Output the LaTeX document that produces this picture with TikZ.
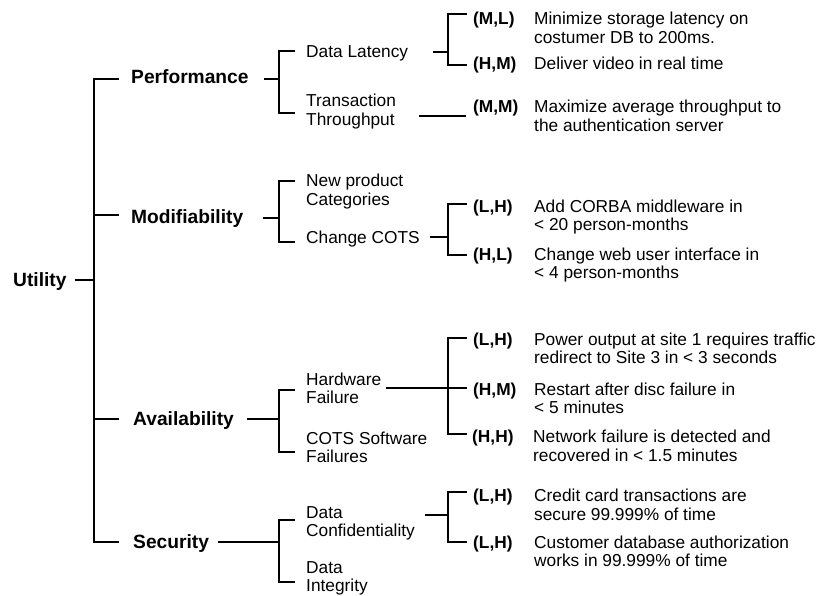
\documentclass[tikz,border=0pt]{standalone}
\usepackage{fontspec}
\setmainfont{Liberation Sans}
% two-line label whose baseline is that of its first line
\newcommand\stk[1]{\begin{tabular}[t]{@{}l@{}}#1\end{tabular}}
\begin{document}
\begin{tikzpicture}[x=1pt,y=-1pt,
  every node/.style={inner sep=0pt, anchor=base west},
  root/.style={font=\fontsize{19.2}{21}\selectfont\bfseries},
  cat/.style={font=\fontsize{19.2}{21}\selectfont\bfseries},
  sub/.style={font=\fontsize{17.3}{18.6}\selectfont},
  rate/.style={font=\fontsize{17.3}{18.6}\selectfont\bfseries},
  desc/.style={font=\fontsize{17.3}{18.6}\selectfont},
  link/.style={draw=black, line width=1.5pt}]
\useasboundingbox (0,0) rectangle (821,596);

% ---- root and quality attributes ----
\node[root] (util) at (13,286.5) {Utility};
\node[cat] (perf)  at (131,83.5)  {Performance};
\node[cat] (mod)   at (131,223)   {Modifiability};
\node[cat] (avail) at (133,425.5) {Availability};
\node[cat] (sec)   at (133,548.5) {Security};

% ---- refinements ----
\node[sub] (dl)  at (306,57.5)  {Data Latency};
\node[sub] (tt)  at (306,106.5) {\stk{Transaction\\Throughput}};
\node[sub] (np)  at (306,186.7) {\stk{New product\\Categories}};
\node[sub] (cc)  at (306,243.3) {Change COTS};
\node[sub] (hf)  at (306,385)   {\stk{Hardware\\Failure}};
\node[sub] (csf) at (306,444)   {\stk{COTS Software\\Failures}};
\node[sub] (dc)  at (306,518.3) {\stk{Data\\Confidentiality}};
\node[sub] (di)  at (306,573.3) {\stk{Data\\Integrity}};

% ---- scenarios with (importance, difficulty) ----
\node[rate] (r1)  at (473,25)    {(M,L)};
\node[desc] (d1)  at (534,25)    {\stk{Minimize storage latency on\\costumer DB to 200ms.}};
\node[rate] (r2)  at (473,69.3)  {(H,M)};
\node[desc] (d2)  at (534,69.3)  {Deliver video in real time};
\node[rate] (r3)  at (473,112.7) {(M,M)};
\node[desc] (d3)  at (534,112.7) {\stk{Maximize average throughput to\\the authentication server}};
\node[rate] (r4)  at (473,212.3) {(L,H)};
\node[desc] (d4)  at (534,212.3) {\stk{Add CORBA middleware in\\< 20 person-months}};
\node[rate] (r5)  at (473,260)   {(H,L)};
\node[desc] (d5)  at (534,260)   {\stk{Change web user interface in\\< 4 person-months}};
\node[rate] (r6)  at (473,345)   {(L,H)};
\node[desc] (d6)  at (534,345)   {\stk{Power output at site 1 requires traffic\\redirect to Site 3 in < 3 seconds}};
\node[rate] (r7)  at (473,395)   {(H,M)};
\node[desc] (d7)  at (534,395)   {\stk{Restart after disc failure in\\< 5 minutes}};
\node[rate] (r8)  at (472,442.7) {(H,H)};
\node[desc] (d8)  at (533,442.7) {\stk{Network failure is detected and\\recovered in < 1.5 minutes}};
\node[rate] (r9)  at (473,501.7) {(L,H)};
\node[desc] (d9)  at (534,501.7) {\stk{Credit card transactions are\\secure 99.999\% of time}};
\node[rate] (r10) at (473,548.3) {(L,H)};
\node[desc] (d10) at (534,548.3) {\stk{Customer database authorization\\works in 99.999\% of time}};

% ---- junction points of the brackets ----
\coordinate (j0) at (94,280);
\coordinate (jperf) at (279,79);
\coordinate (jmod) at (279,218);
\coordinate (javail) at (279,419);
\coordinate (jsec) at (279,542);
\coordinate (jdl) at (448,52);
\coordinate (jcc) at (448,237);
\coordinate (jhf) at (448,388);
\coordinate (jdc) at (448,515);

% ---- stub ends in front of each child ----
\coordinate (s-perf) at (119,79);
\coordinate (s-mod) at (119,215);
\coordinate (s-avail) at (119,419);
\coordinate (s-sec) at (119,542);
\coordinate (s-dl) at (295,51);
\coordinate (s-tt) at (295,113);
\coordinate (s-np) at (295,181);
\coordinate (s-cc) at (295,242);
\coordinate (s-hf) at (295,390);
\coordinate (s-csf) at (295,452);
\coordinate (s-dc) at (295,520);
\coordinate (s-di) at (295,582);
\coordinate (s-r1) at (467,14);
\coordinate (s-r2) at (467,65);
\coordinate (s-r3) at (466,116);
\coordinate (s-r4) at (467,204);
\coordinate (s-r5) at (467,255);
\coordinate (s-r6) at (467,338);
\coordinate (s-r7) at (467,388);
\coordinate (s-r8) at (467,434);
\coordinate (s-r9) at (467,492);
\coordinate (s-r10) at (467,542);

% ---- root level ----
\draw[link] ([xshift=8pt]util.east |- j0) -- (j0);
\draw[link] (s-perf) -| (j0 |- s-perf) -- (j0 |- s-sec) -- (s-sec);
\draw[link] (j0 |- s-mod) -- (s-mod);
\draw[link] (j0 |- s-avail) -- (s-avail);

% ---- attribute level ----
\draw[link] ([xshift=15pt]perf.east |- jperf) -- (jperf);
\draw[link] (s-dl) -| (jperf) |- (s-tt);
\draw[link] ([xshift=20pt]mod.east |- jmod) -- (jmod);
\draw[link] (s-np) -| (jmod) |- (s-cc);
\draw[link] ([xshift=13pt]avail.east |- javail) -- (javail);
\draw[link] (s-hf) -| (javail) |- (s-csf);
\draw[link] ([xshift=9pt]sec.east |- jsec) -- (jsec);
\draw[link] (s-dc) -| (jsec) |- (s-di);

% ---- refinement level ----
\draw[link] ([xshift=25pt]dl.east |- jdl) -- (jdl);
\draw[link] (s-r1) -| (jdl) |- (s-r2);
\draw[link] ([xshift=23pt]tt.east |- s-r3) -- (s-r3);
\draw[link] ([xshift=10pt]cc.east |- jcc) -- (jcc);
\draw[link] (s-r4) -| (jcc) |- (s-r5);
\draw[link] ([xshift=5pt]hf.east |- jhf) -- (s-r7);
\draw[link] (s-r6) -| (jhf) |- (s-r8);
\draw[link] ([xshift=10pt]dc.east |- jdc) -- (jdc);
\draw[link] (s-r9) -| (jdc) |- (s-r10);
\end{tikzpicture}
\end{document}
